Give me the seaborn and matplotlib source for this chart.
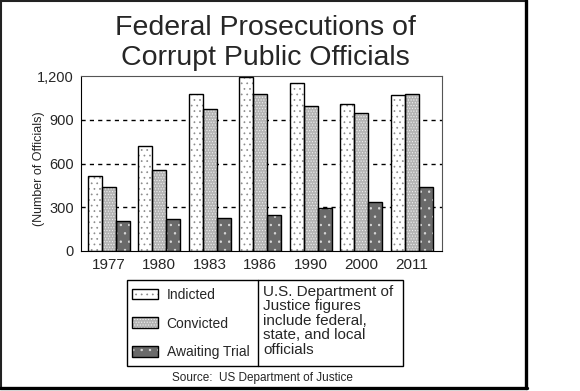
import pandas as pd
import seaborn as sns
import matplotlib.pyplot as plt
from matplotlib.patches import Rectangle, Patch
from matplotlib.lines import Line2D

# values
years = ['1977', '1980', '1983', '1986', '1990', '2000', '2011']
indicted = [512, 722, 1076, 1195, 1149, 1005, 1067]
convicted = [441, 554, 977, 1076, 993, 947, 1076]
awaiting = [209, 216, 225, 246, 297, 336, 437]
statuses = ['Indicted', 'Convicted', 'Awaiting Trial']
yticks = [0, 300, 600, 900, 1200]
ytick_labels = ['0', '300', '600', '900', '1,200']

df = pd.DataFrame({'year': years * 3,
                   'count': indicted + convicted + awaiting,
                   'status': [s for s in statuses for _ in years]})

sns.set_style('white')
plt.rcParams['font.family'] = ['Liberation Sans', 'DejaVu Sans']
plt.rcParams['hatch.linewidth'] = 0.5

W, H = 580, 391
fig = plt.figure(figsize=(5.8, 3.91), dpi=100)
ax = fig.add_axes([81 / W, 1 - 251 / H, (442 - 81) / W, (251 - 76) / H])

# face colour, hatch, hatch colour
styles = {'Indicted': ('white', '...', '#8a8a8a'),
          'Convicted': ('#b4b4b4', '......', '#f0f0f0'),
          'Awaiting Trial': ('#6a6a6a', '..', '#dddddd')}

sns.barplot(data=df, x='year', y='count', hue='status', hue_order=statuses,
            palette=['white', '#b4b4b4', '#6a6a6a'], saturation=1,
            width=0.83, legend=False, ax=ax, zorder=2)

for cont, s in zip(ax.containers, statuses):
    fc, hatch, hc = styles[s]
    for p in cont:
        p.set_facecolor(fc)
        p.set_hatch(hatch)
        p.set_edgecolor(hc)
        p.set_linewidth(0)
        ax.add_patch(Rectangle(p.get_xy(), p.get_width(), p.get_height(),
                               fill=False, ec='black', lw=1, zorder=3))

ax.set_ylim(0, 1200)
ax.set_xlim(-0.55, 6.6)
ax.set_yticks(yticks)
ax.set_yticklabels(ytick_labels)
ax.set_xlabel('')
ax.set_ylabel('(Number of Officials)', fontsize=9)
ax.yaxis.set_label_coords(-0.10, 0.47)
ax.tick_params(axis='y', direction='out', length=3, width=1, labelsize=10.5, pad=2)
ax.tick_params(axis='x', length=0, labelsize=11, pad=5)
for y in [300, 600, 900]:
    ax.axhline(y, color='black', lw=1, ls=(0, (3, 3)), zorder=1)
for side in ['left', 'bottom']:
    ax.spines[side].set_color('black')
for side in ['top', 'right']:
    ax.spines[side].set_color('#555555')

# title
fig.text(265 / W, 1 - 35 / H, 'Federal Prosecutions of', ha='center',
         va='baseline', fontsize=20.5)
fig.text(265 / W, 1 - 65 / H, 'Corrupt Public Officials', ha='center',
         va='baseline', fontsize=20.5)

# legend box with note
fig.add_artist(Rectangle((127 / W, 1 - 366 / H), (403 - 127) / W, (366 - 280) / H,
                         transform=fig.transFigure, fill=False, ec='black', lw=1))
fig.add_artist(Line2D([258 / W, 258 / W], [1 - 280 / H, 1 - 366 / H],
                      transform=fig.transFigure, color='black', lw=1))
handles = []
for s in statuses:
    fc, hatch, hc = styles[s]
    handles.append((Patch(facecolor=fc, hatch=hatch, edgecolor=hc, lw=0),
                    Patch(fill=False, edgecolor='black', lw=1)))
fig.legend(handles=handles, labels=statuses, loc='upper left',
           bbox_to_anchor=(132 / W, 1 - 288 / H), frameon=False, fontsize=10,
           handlelength=1.9, handleheight=0.8, handletextpad=0.6,
           labelspacing=1.05, borderpad=0, borderaxespad=0)
fig.text(263 / W, 1 - 285 / H,
         'U.S. Department of\nJustice figures\ninclude federal,\nstate, and local\nofficials',
         ha='left', va='top', fontsize=11, linespacing=1.04)

fig.text(262 / W, 1 - 378 / H, 'Source:  US Department of Justice', ha='center',
         va='center', fontsize=8.5)

# outer frame
fig.add_artist(Line2D([0, 527 / W], [1 - 0.5 / H, 1 - 0.5 / H],
                      transform=fig.transFigure, color='#222222', lw=1.5))
fig.add_artist(Line2D([0.5 / W, 0.5 / W], [1, 1 - 388 / H],
                      transform=fig.transFigure, color='#222222', lw=1.5))
fig.add_artist(Line2D([526 / W, 526 / W], [1, 1 - 388 / H],
                      transform=fig.transFigure, color='black', lw=2.4))
fig.add_artist(Line2D([0, 527 / W], [1 - 388 / H, 1 - 388 / H],
                      transform=fig.transFigure, color='black', lw=2.4))

fig.savefig('out.png', dpi=100)
